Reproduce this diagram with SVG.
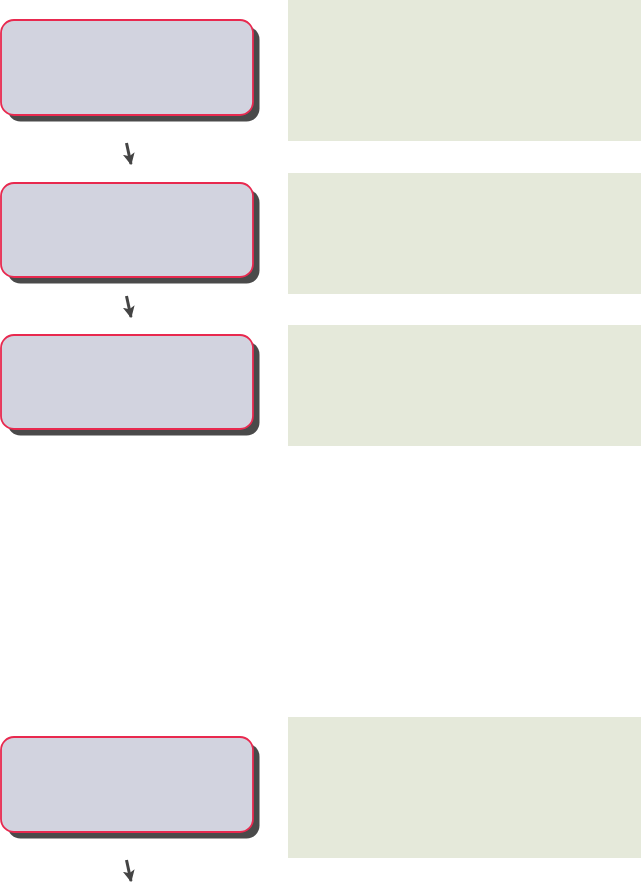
<svg xmlns="http://www.w3.org/2000/svg" width="641" height="883" viewBox="0 0 641 883">
<style>
.box{fill:#d2d3df;stroke:#e8294f;stroke-width:1.8}
.shadow{fill:#4a4a4a}
.panel{fill:#e5e9da}
.arrow{stroke:#444;stroke-width:3;fill:none;marker-end:url(#ah)}
</style>
<defs>
<marker id="ah" viewBox="0 0 10 10" refX="9" refY="5" markerWidth="4" markerHeight="4.6" orient="auto" markerUnits="strokeWidth">
<path d="M0,0 L10,5 L0,10 L2.5,5 Z" fill="#444"/>
</marker>
</defs>
<g id="panel1"><rect class="panel" x="288" y="0" width="353" height="141"/></g>
<g id="panel2"><rect class="panel" x="288" y="173" width="353" height="121"/></g>
<g id="panel3"><rect class="panel" x="288" y="325" width="353" height="121"/></g>
<g id="panel4"><rect class="panel" x="288" y="717" width="353" height="141"/></g>
<g id="node1"><rect class="shadow" x="7.5" y="26.5" width="252" height="95" rx="13"/><rect class="box" x="1" y="20" width="252" height="95" rx="13"/></g>
<g id="node2"><rect class="shadow" x="7.5" y="189.5" width="252" height="94" rx="13"/><rect class="box" x="1" y="183" width="252" height="94" rx="13"/></g>
<g id="node3"><rect class="shadow" x="7.5" y="341.5" width="252" height="94" rx="13"/><rect class="box" x="1" y="335" width="252" height="94" rx="13"/></g>
<g id="node4"><rect class="shadow" x="7.5" y="743.5" width="252" height="95" rx="13"/><rect class="box" x="1" y="737" width="252" height="95" rx="13"/></g>
<g id="connectors">
<line class="arrow" x1="126.5" y1="143" x2="131" y2="164"/>
<line class="arrow" x1="126.5" y1="296" x2="131" y2="317"/>
<line class="arrow" x1="126.5" y1="860" x2="131" y2="881"/>
</g>
</svg>
